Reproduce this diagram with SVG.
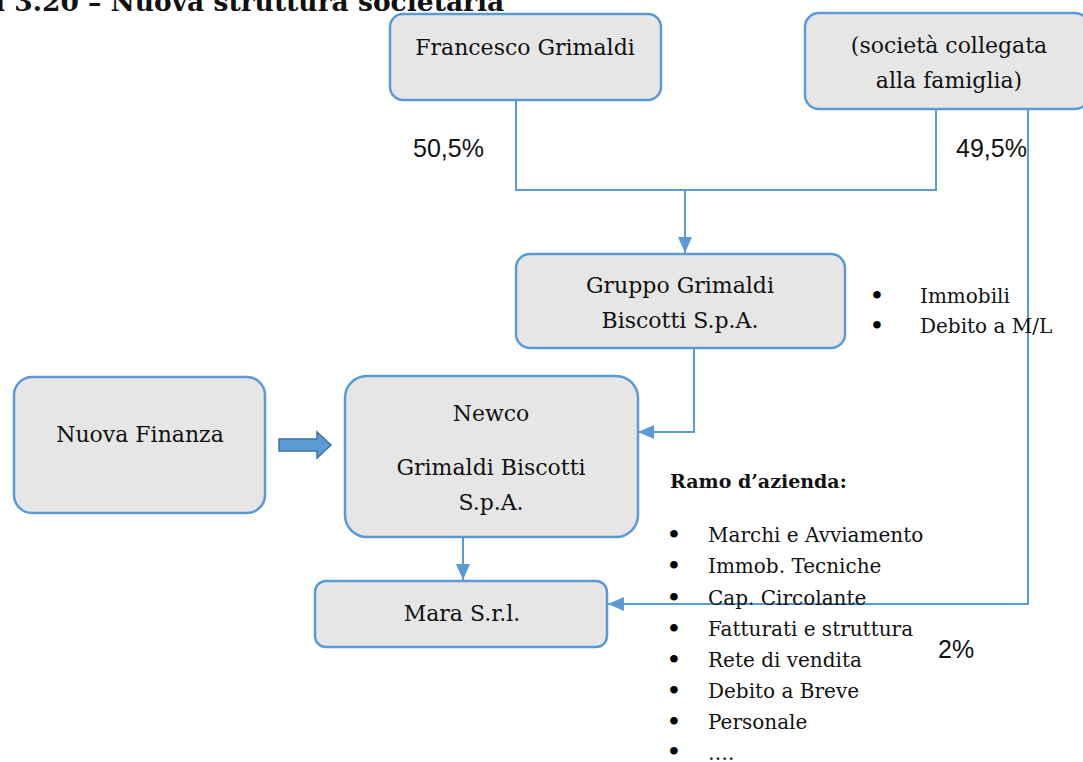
<svg xmlns="http://www.w3.org/2000/svg" width="1083" height="762" viewBox="0 0 1083 762">
<defs>
<style>
.box{fill:#e7e6e6;stroke:#5b9bd5;stroke-width:2.5}
.t{font-family:"DejaVu Serif","Liberation Serif",serif;font-size:22px;fill:#111;text-anchor:middle}
.l{font-family:"DejaVu Serif","Liberation Serif",serif;font-size:20px;fill:#111}
.b{font-family:"DejaVu Serif","Liberation Serif",serif;font-size:26px;fill:#000;text-anchor:middle}
.p{font-family:"Liberation Sans","Arial",sans-serif;font-size:25px;fill:#111}
.c{fill:none;stroke:#5b9bd5;stroke-width:2}
</style>
<marker id="ah" markerUnits="userSpaceOnUse" markerWidth="16" markerHeight="16" viewBox="0 0 16 16" refX="16" refY="8" orient="auto">
<path d="M0,1 L16,8 L0,15 Z" fill="#5b9bd5"/>
</marker>
</defs>
<rect width="1083" height="762" fill="#fff"/>
<text x="-5" y="11" font-family="DejaVu Serif,Liberation Serif,serif" font-weight="bold" font-size="26.5" fill="#111">i 3.20 – Nuova struttura societaria</text>

<g id="connectors">
<polyline class="c" points="516,100 516,190 936,190 936,110"/>
<line class="c" x1="685" y1="190" x2="685" y2="253" marker-end="url(#ah)"/>
<polyline class="c" points="694,348 694,432 638,432" marker-end="url(#ah)"/>
<line class="c" x1="463" y1="537" x2="463" y2="580" marker-end="url(#ah)"/>
<polyline class="c" points="1028,110 1028,604 608,604" marker-end="url(#ah)"/>
<path d="M279,439 L317,439 L317,432 L331,445 L317,458 L317,451 L279,451 Z" fill="#5b9bd5" stroke="#41719c" stroke-width="1.5"/>
</g>

<g id="francesco">
<rect class="box" x="390" y="14" width="271" height="86" rx="13"/>
<text class="t" x="525" y="55">Francesco Grimaldi</text>
</g>
<g id="societa">
<rect class="box" x="805" y="13" width="284" height="96" rx="14"/>
<text class="t" x="949" y="53">(società collegata</text>
<text class="t" x="949" y="88">alla famiglia)</text>
</g>
<g id="gruppo">
<rect class="box" x="516" y="254" width="329" height="94" rx="14"/>
<text class="t" x="680" y="293">Gruppo Grimaldi</text>
<text class="t" x="680" y="328">Biscotti S.p.A.</text>
</g>
<g id="nuova">
<rect class="box" x="14" y="377" width="251" height="136" rx="18"/>
<text class="t" x="140" y="442">Nuova Finanza</text>
</g>
<g id="newco">
<rect class="box" x="345" y="376" width="293" height="161" rx="22"/>
<text class="t" x="491" y="421">Newco</text>
<text class="t" x="491" y="475">Grimaldi Biscotti</text>
<text class="t" x="491" y="510">S.p.A.</text>
</g>
<g id="mara">
<rect class="box" x="315" y="581" width="292" height="66" rx="11"/>
<text class="t" x="462" y="621">Mara S.r.l.</text>
</g>

<g id="labels">
<text class="p" x="413" y="157">50,5%</text>
<text class="p" x="956" y="157">49,5%</text>
<text class="p" x="938" y="658">2%</text>
<text class="b" x="877" y="305">•</text>
<text class="l" x="920" y="303">Immobili</text>
<text class="b" x="877" y="335">•</text>
<text class="l" x="920" y="333">Debito a M/L</text>
<text x="670" y="488" font-family="DejaVu Serif,Liberation Serif,serif" font-weight="bold" font-size="19" fill="#111">Ramo d’azienda:</text>
<text class="b" x="674" y="544">•</text><text class="l" x="708" y="542">Marchi e Avviamento</text>
<text class="b" x="674" y="575">•</text><text class="l" x="708" y="573">Immob. Tecniche</text>
<text class="b" x="674" y="607">•</text><text class="l" x="708" y="605">Cap. Circolante</text>
<text class="b" x="674" y="638">•</text><text class="l" x="708" y="636">Fatturati e struttura</text>
<text class="b" x="674" y="669">•</text><text class="l" x="708" y="667">Rete di vendita</text>
<text class="b" x="674" y="700">•</text><text class="l" x="708" y="698">Debito a Breve</text>
<text class="b" x="674" y="731">•</text><text class="l" x="708" y="729">Personale</text>
<text class="b" x="674" y="761">•</text><text class="l" x="708" y="760">….</text>
</g>
</svg>
